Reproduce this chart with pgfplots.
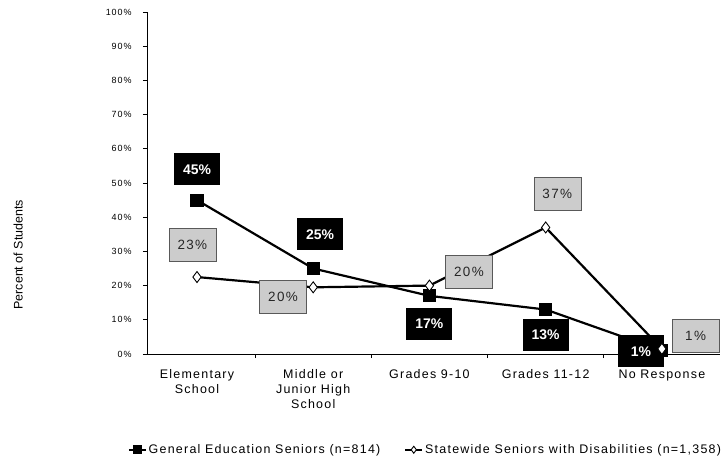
\documentclass[border=0pt]{standalone}
\usepackage{fontspec}
\setmainfont{Liberation Sans}
\newfontfamily\spaced[LetterSpace=10]{Liberation Sans}
\usepackage{pgfplots}
\pgfplotsset{compat=1.18}
\begin{document}
\begin{tikzpicture}[
  blk/.style={fill=black, text=white, font=\fontsize{14}{16}\selectfont\bfseries, minimum width=46bp, minimum height=32bp, inner sep=2bp},
  gry/.style={fill=gray!40, draw=gray!70!black, line width=0.4pt, text=black!85, font=\spaced\fontsize{13.5}{15}\selectfont, minimum width=47bp, minimum height=33bp, inner sep=2bp}
]
\useasboundingbox (0,0) rectangle (724bp,464bp);
\begin{axis}[
  at={(147bp,110bp)}, anchor=south west,
  scale only axis, width=573bp, height=342bp,
  xmin=-0.43, xmax=4.5, ymin=0, ymax=100,
  clip=false,
  axis lines=left, axis line style={-, line width=1pt},
  tick align=outside,
  xtick={0,1,2,3,4},
  xticklabels={Elementary\\School, Middle or\\Junior High\\School, Grades 9-10, Grades 11-12, No Response},
  major x tick style={draw=none},
  minor xtick={0.5,1.5,2.5,3.5},
  minor tick length=4bp,
  minor x tick style={black, line width=0.7pt},
  xticklabel style={font=\spaced\fontsize{12.5}{15}\selectfont, align=center, anchor=north, yshift=-8bp},
  ytick={0,10,...,100},
  major tick length=4bp,
  y tick style={black, line width=0.7pt},
  yticklabel={\pgfmathprintnumber{\tick}\%},
  /pgf/number format/assume math mode=true,
  yticklabel style={font=\spaced\fontsize{9}{10}\selectfont, xshift=-8bp},
  ylabel={Percent of Students},
  ylabel style={at={(axis description cs:-0.225,0.29)}, anchor=center, font=\fontsize{12.5}{14}\selectfont},
  legend style={at={(axis description cs:0.486,-0.28)}, anchor=center, draw=none, fill=none, legend columns=2, font=\spaced\fontsize{12.5}{14}\selectfont, /tikz/every even column/.append style={column sep=22bp}},
  legend image post style={mark size=3.5bp, line width=1.8pt},
  legend cell align=left,
]
\addplot[black, line width=2.2pt, mark=square*, mark size=5.5bp, mark options={solid, fill=black}] coordinates {(0,45) (1,25) (2,17) (3,13) (4,1)};
\addlegendentry{General Education Seniors (n=814)}
\addplot[black, line width=2.2pt, mark=diamond*, mark size=5.5bp, mark options={solid, fill=white, line width=0.9pt}] coordinates {(0,22.5) (1,19.5) (2,20) (3,37) (4,1.5)};
\addlegendentry{Statewide Seniors with Disabilities (n=1,358)}
\node[blk] at (axis cs:0,54) {45\%};
\node[gry] at (axis cs:-0.04,32) {23\%};
\node[blk] at (axis cs:1.06,35) {25\%};
\node[gry] at (axis cs:0.74,16.7) {20\%};
\node[gry] at (axis cs:2.34,24) {20\%};
\node[blk] at (axis cs:2.0,8.8) {17\%};
\node[gry] at (axis cs:3.1,46.8) {37\%};
\node[blk] at (axis cs:3.0,5.6) {13\%};
\node[blk] at (axis cs:3.82,0.8) {1\%};
\node[gry] at (axis cs:4.29,5.3) {1\%};
\end{axis}
\end{tikzpicture}
\end{document}
